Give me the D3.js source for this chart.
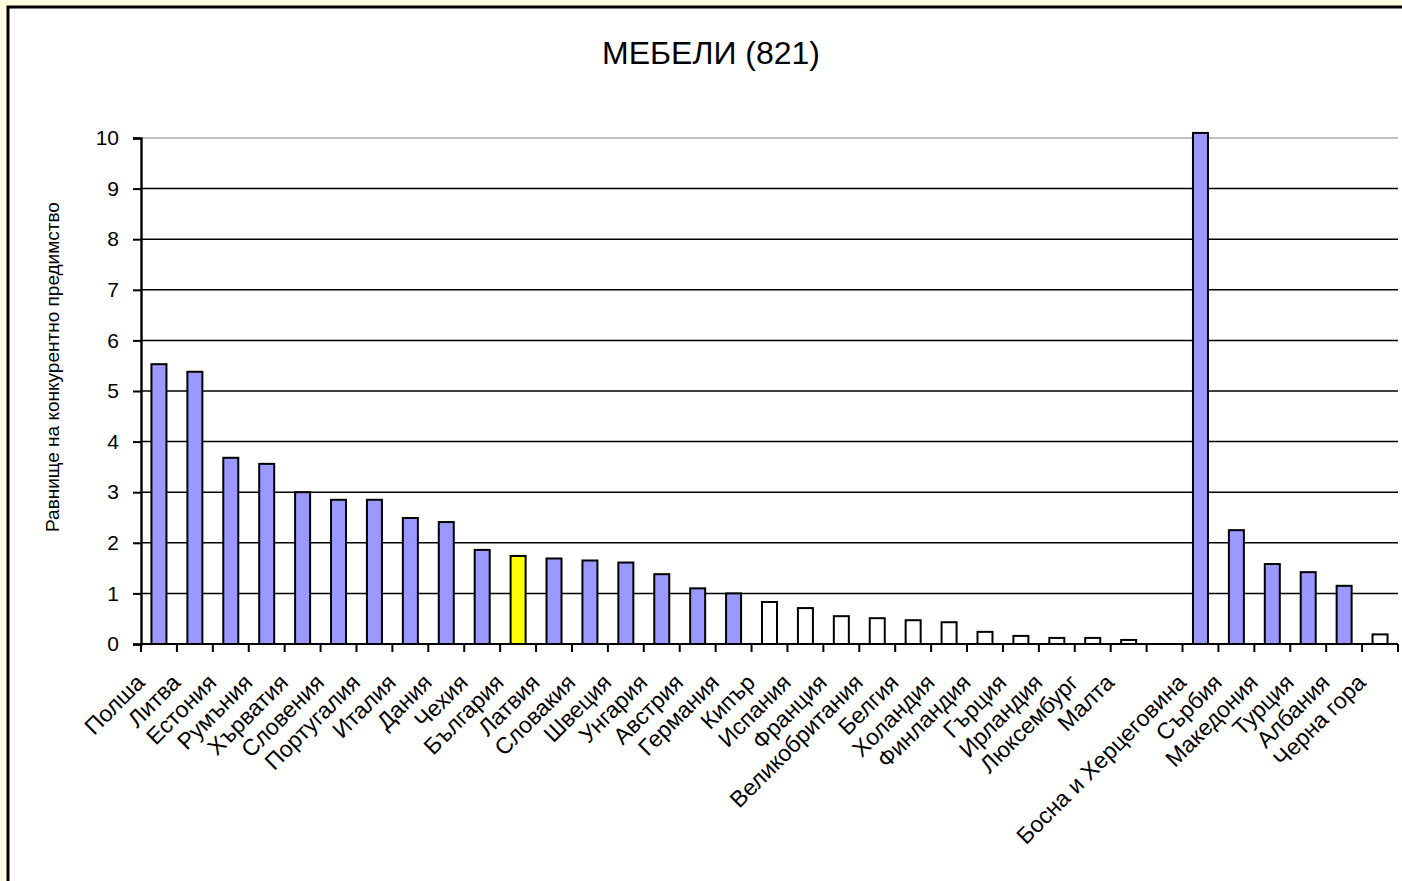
<!DOCTYPE html>
<html>
<head>
<meta charset="utf-8">
<script src="https://cdn.jsdelivr.net/npm/d3@7"></script>
<style>
  html, body { margin: 0; padding: 0; background: #FFFFE0; overflow: hidden; }
  svg { display: block; }
  text { font-family: Arial, "Liberation Sans", sans-serif; fill: #000; }
</style>
</head>
<body>
<svg id="chart" width="1402" height="881"></svg>
<script>
// Competitive advantage index by country, furniture (SITC 821)
const categories = [
  "Полша", "Литва", "Естония", "Румъния", "Хърватия", "Словения", "Португалия",
  "Италия", "Дания", "Чехия", "България", "Латвия", "Словакия", "Швеция",
  "Унгария", "Австрия", "Германия", "Кипър", "Испания", "Франция",
  "Великобритания", "Белгия", "Холандия", "Финландия", "Гърция", "Ирландия",
  "Люксембург", "Малта", "", "Босна и Херцеговина", "Сърбия", "Македония",
  "Турция", "Албания", "Черна гора"
];
const values = [
  5.53, 5.38, 3.68, 3.56, 3.00, 2.85, 2.85,
  2.49, 2.41, 1.86, 1.74, 1.69, 1.65, 1.61,
  1.38, 1.10, 1.00, 0.83, 0.71, 0.55,
  0.51, 0.47, 0.43, 0.24, 0.16, 0.12,
  0.12, 0.08, null, 10.1, 2.25, 1.58,
  1.42, 1.15, 0.19
];
const yTicks = [0, 1, 2, 3, 4, 5, 6, 7, 8, 9, 10];
const highlight = "България";
const title = "МЕБЕЛИ (821)";
const yTitle = "Равнище на конкурентно предимство";

const svg = d3.select("#chart");

// chart area frame (runs past the right and bottom edges)
svg.append("rect")
  .attr("x", 8).attr("y", 7)
  .attr("width", 1600).attr("height", 1000)
  .attr("fill", "#fff").attr("stroke", "#000").attr("stroke-width", 3);

const plot = { left: 141, right: 1398, top: 138, bottom: 644 };

const x = d3.scaleBand().domain(categories).range([plot.left, plot.right]).padding(0);
const y = d3.scaleLinear().domain([0, 10]).range([plot.bottom, plot.top]);

// horizontal gridlines
svg.append("g").selectAll("line")
  .data(yTicks.filter(t => t > 0))
  .join("line")
  .attr("x1", plot.left).attr("x2", plot.right)
  .attr("y1", d => y(d)).attr("y2", d => y(d))
  .attr("stroke", d => d === 10 ? "#c0c0c0" : "#000")
  .attr("stroke-width", d => d === 10 ? 2 : 1.5);

// bars
const barW = 15;
const data = categories.map((c, i) => ({ c, v: values[i] })).filter(d => d.v !== null);
svg.append("g").selectAll("rect")
  .data(data)
  .join("rect")
  .attr("x", d => x(d.c) + (x.bandwidth() - barW) / 2)
  .attr("y", d => y(d.v))
  .attr("width", barW)
  .attr("height", d => y(0) - y(d.v))
  .attr("fill", d => d.c === highlight ? "#FFFF00" : (d.v >= 1 ? "#9999FF" : "#FFFFFF"))
  .attr("stroke", "#000")
  .attr("stroke-width", 2);

// y axis
const yAxis = d3.axisLeft(y).tickValues(yTicks).tickSize(8).tickPadding(14).tickFormat(d3.format("d"));
const gy = svg.append("g").attr("transform", `translate(${plot.left},0)`).call(yAxis);
gy.select(".domain").attr("stroke", "#000").attr("stroke-width", 2.4);
gy.selectAll(".tick line").attr("stroke", "#000").attr("stroke-width", 2);
gy.selectAll(".tick text").style("font-size", "21px").style("font-family", "Arial, 'Liberation Sans', sans-serif");

// x axis with ticks at category boundaries
svg.append("line")
  .attr("x1", plot.left).attr("x2", plot.right)
  .attr("y1", plot.bottom).attr("y2", plot.bottom)
  .attr("stroke", "#000").attr("stroke-width", 2);
const boundaries = categories.map(c => x(c)).concat([plot.right]);
svg.append("g").selectAll("line")
  .data(boundaries)
  .join("line")
  .attr("x1", d => d).attr("x2", d => d)
  .attr("y1", plot.bottom).attr("y2", plot.bottom + 8)
  .attr("stroke", "#000").attr("stroke-width", 2);

// rotated category labels
svg.append("g").selectAll("text")
  .data(categories)
  .join("text")
  .attr("transform", c => `translate(${x(c) + x.bandwidth() / 2 - 13},${plot.bottom + 40}) rotate(-45)`)
  .attr("text-anchor", "end")
  .style("font-size", "23px")
  .text(c => c);

// title
svg.append("text")
  .attr("x", 711).attr("y", 64)
  .attr("text-anchor", "middle")
  .style("font-size", "32px")
  .text(title);

// y axis title
svg.append("text")
  .attr("transform", `translate(59,${(plot.top + plot.bottom) / 2 - 24}) rotate(-90)`)
  .attr("text-anchor", "middle")
  .style("font-size", "19px")
  .text(yTitle);
</script>
</body>
</html>
